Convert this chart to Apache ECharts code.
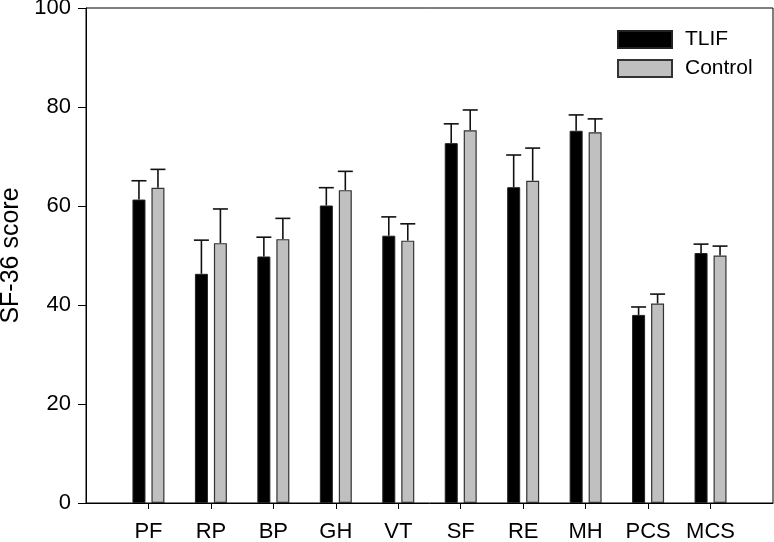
<!DOCTYPE html>
<html>
<head>
<meta charset="utf-8">
<script src="https://cdn.jsdelivr.net/npm/echarts@6/dist/echarts.min.js"></script>
<style>
html,body{margin:0;padding:0;background:#fff;}
#chart{width:774px;height:542px;}
</style>
</head>
<body>
<div id="chart"></div>
<script>
// Data
const categories = ['PF', 'RP', 'BP', 'GH', 'VT', 'SF', 'RE', 'MH', 'PCS', 'MCS'];
const tlifMean = [61.3, 46.3, 49.8, 60.1, 54.0, 72.7, 63.8, 75.2, 38.0, 50.5];
const tlifSD = [3.8, 6.8, 3.9, 3.6, 3.8, 3.9, 6.5, 3.2, 1.6, 1.8];
const controlMean = [63.7, 52.5, 53.3, 63.2, 53.0, 75.3, 65.1, 74.9, 40.3, 50.0];
const controlSD = [3.7, 6.9, 4.2, 3.8, 3.4, 4.1, 6.6, 2.7, 1.9, 1.9];
const yTicks = [0, 20, 40, 60, 80, 100];

const FONT = '"Liberation Sans", Arial, sans-serif';
// padded category axis: empty slot at each end
const xCats = [''].concat(categories, ['']);
const pad = arr => [null].concat(arr, [null]);

function errData(means, sds) {
  return means.map((m, i) => [i + 1, m, m + sds[i]]);
}

function errRender(offset) {
  return function (params, api) {
    const x = api.value(0);
    const base = api.coord([x, api.value(1)]);
    const top = api.coord([x, api.value(2)]);
    const cx = base[0] + offset;
    const half = 7.5;
    const style = { stroke: '#111', lineWidth: 1.6 };
    return {
      type: 'group',
      children: [
        { type: 'line', shape: { x1: cx, y1: base[1], x2: cx, y2: top[1] }, style: style },
        { type: 'line', shape: { x1: cx - half, y1: top[1], x2: cx + half, y2: top[1] }, style: style }
      ]
    };
  };
}

const chart = echarts.init(document.getElementById('chart'), null, { renderer: 'canvas' });
chart.setOption({
  animation: false,
  backgroundColor: '#fff',
  textStyle: { fontFamily: FONT },
  grid: {
    left: 86, right: 1, top: 8, bottom: 39,
    containLabel: false,
    outerBoundsMode: 'none',
    show: true, borderColor: '#000', borderWidth: 1, backgroundColor: 'transparent'
  },
  legend: {
    data: ['TLIF', 'Control'],
    orient: 'vertical',
    left: 617, top: 29,
    padding: 0,
    icon: 'rect',
    itemWidth: 54, itemHeight: 17,
    itemGap: 8,
    textStyle: { fontFamily: FONT, fontSize: 21, color: '#000', padding: [0, 0, 0, 8] }
  },
  xAxis: {
    type: 'category',
    data: xCats,
    boundaryGap: false,
    axisLine: { lineStyle: { color: '#000', width: 1 } },
    axisTick: {
      length: 6, inside: false,
      interval: function (idx) { return idx > 0 && idx < xCats.length - 1; },
      lineStyle: { color: '#000', width: 1 }
    },
    axisLabel: { interval: 0, margin: 18, fontSize: 22, color: '#000', fontFamily: FONT },
    splitLine: { show: false }
  },
  yAxis: {
    type: 'value',
    min: yTicks[0], max: yTicks[yTicks.length - 1], interval: 20,
    name: 'SF-36 score',
    nameLocation: 'middle',
    nameGap: 57,
    nameTextStyle: { fontSize: 25, color: '#000', fontFamily: FONT },
    axisLine: { show: true, lineStyle: { color: '#000', width: 1 } },
    axisTick: { show: true, length: 8, lineStyle: { color: '#000', width: 1 } },
    axisLabel: { margin: 15, fontSize: 22, color: '#000', fontFamily: FONT },
    splitLine: { show: false }
  },
  series: [
    {
      name: 'TLIF', type: 'bar', data: pad(tlifMean),
      barWidth: 13, barGap: '46%',
      itemStyle: { color: '#000', borderColor: '#222', borderWidth: 1 }
    },
    {
      name: 'Control', type: 'bar', data: pad(controlMean),
      barWidth: 13,
      itemStyle: { color: '#c0c0c0', borderColor: '#333', borderWidth: 1.2 }
    },
    {
      name: 'TLIF err', type: 'custom', renderItem: errRender(-9.5),
      data: errData(tlifMean, tlifSD), encode: { x: 0, y: [1, 2] }, z: 1
    },
    {
      name: 'Control err', type: 'custom', renderItem: errRender(9.5),
      data: errData(controlMean, controlSD), encode: { x: 0, y: [1, 2] }, z: 1
    }
  ]
});
</script>
</body>
</html>
